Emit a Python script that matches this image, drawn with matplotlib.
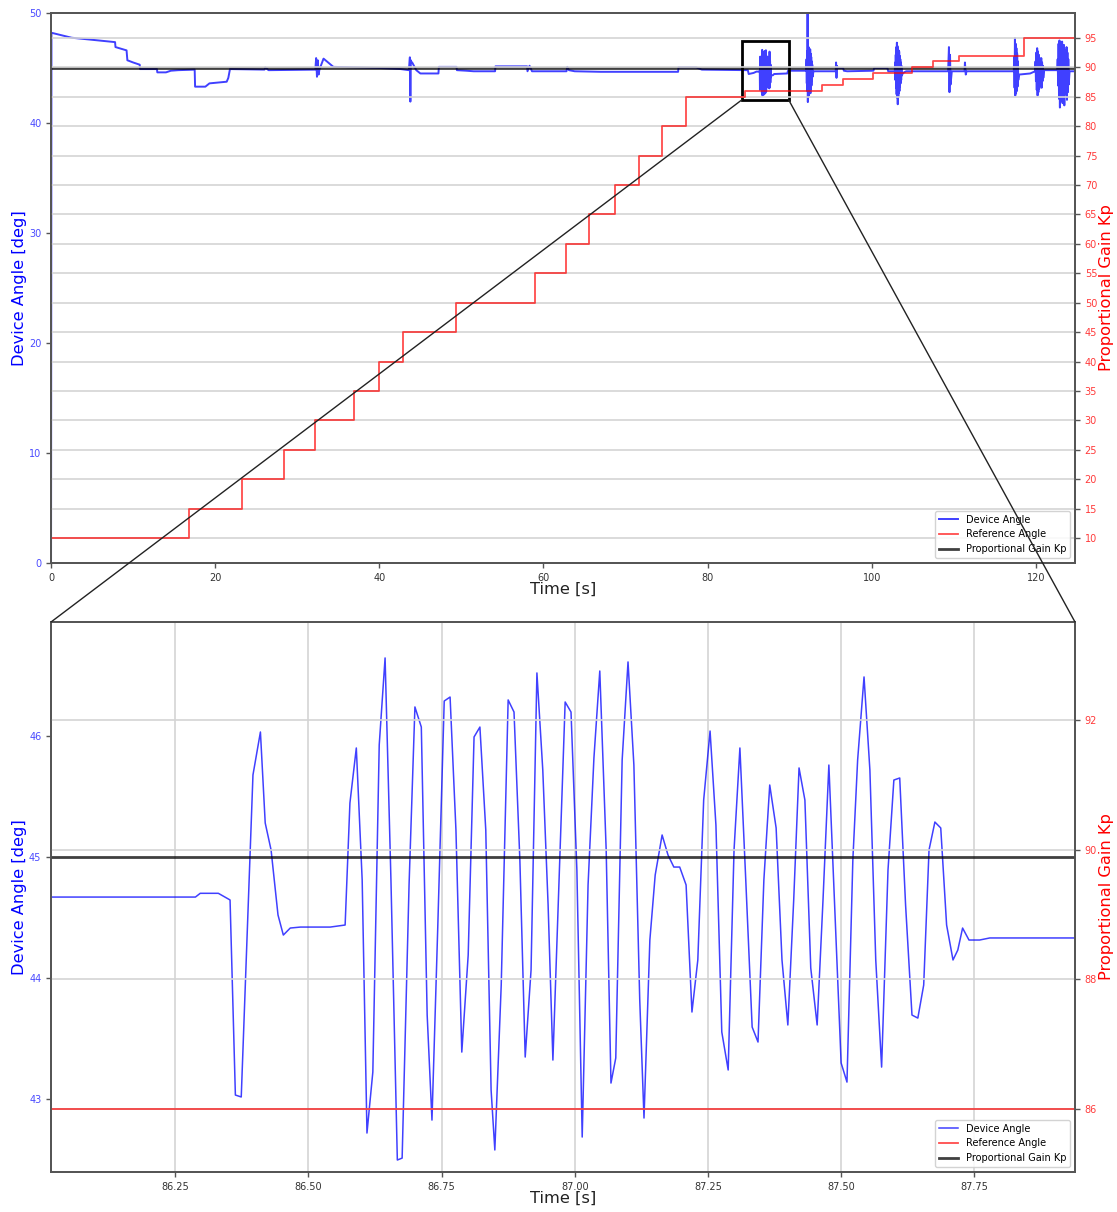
import numpy as np
import matplotlib
matplotlib.use("Agg")
import matplotlib.pyplot as plt
from matplotlib.patches import Rectangle, ConnectionPatch
from matplotlib.ticker import MultipleLocator, FormatStrFormatter

# ---------------- proportional gain schedule (step changes) ----------------
kp_times = [0.0, 16.8, 23.3, 28.35, 32.2, 36.95, 40.0, 42.9, 49.4, 59.0,
            62.7, 65.5, 68.7, 71.6, 74.4, 77.4, 84.5, 93.9, 96.5, 100.2,
            104.9, 107.4, 110.6, 118.5]
kp_values = [10, 15, 20, 25, 30, 35, 40, 45, 50, 55,
             60, 65, 70, 75, 80, 85, 86, 87, 88, 89,
             90, 91, 92, 95]
run_end = 124.76
reference_angle = 45.0

# ---------------- device angle: slow baseline (time [s], angle [deg]) ----------------
base_t = [0.0, 0.05, 2.5, 7.8, 7.85, 9.2, 9.3, 10.0, 10.8, 10.85,
          12.9, 12.95, 14.0, 14.6, 15.5, 17.5, 17.55, 18.8, 19.3, 21.4,
          21.6, 21.8, 26.0, 26.1, 26.5, 32.2, 32.7, 33.2, 34.4, 40.0,
          42.6, 43.6, 44.0, 44.5, 45.0, 47.2, 47.25, 49.4, 49.45, 50.6,
          51.5, 54.1, 54.15, 58.0, 58.05, 58.3, 58.6, 62.8, 62.9, 63.1,
          63.8, 67.0, 76.4, 76.45, 78.6, 79.3, 84.9, 85.0, 85.6, 85.95,
          88.1, 89.7, 89.8, 92.0, 92.9, 95.6, 95.85, 96.5, 96.6, 97.0,
          100.2, 100.3, 101.9, 102.0, 102.8, 103.8, 104.2, 109.3, 109.75, 111.3,
          111.55, 117.3, 117.95, 119.3, 119.9, 121.0, 122.6, 124.1, 124.76]
base_v = [0.0, 48.2, 47.75, 47.35, 46.9, 46.6, 45.7, 45.5, 45.3, 44.9,
          44.9, 44.6, 44.6, 44.75, 44.8, 44.85, 43.3, 43.3, 43.6, 43.75,
          44.1, 44.9, 44.85, 45.05, 44.8, 44.85, 44.85, 45.85, 45.1, 45.0,
          44.9, 44.8, 45.5, 44.8, 44.5, 44.5, 45.1, 45.1, 44.8, 44.75,
          44.7, 44.7, 45.15, 45.15, 44.7, 45.2, 44.7, 44.7, 45.1, 44.8,
          44.7, 44.65, 44.65, 45.05, 45.05, 44.85, 44.8, 44.45, 44.55, 44.67,
          44.45, 44.5, 44.75, 44.75, 44.7, 44.7, 45.0, 45.0, 44.75, 44.7,
          44.75, 45.0, 45.0, 44.7, 44.7, 44.55, 44.7, 44.7, 44.7, 44.7,
          44.7, 44.7, 44.4, 44.5, 44.7, 44.8, 44.8, 44.7, 44.7]

# ---------------- oscillation bursts: time window and sampled angles ----------------
burst_windows = [(32.3, 32.6), (43.72, 43.9), (92.05, 92.78), (95.65, 95.75),
                 (102.85, 103.65), (109.4, 109.6), (111.35, 111.45),
                 (117.35, 117.85), (119.95, 120.9), (122.65, 124.0)]
burst_a = [45.9, 44.2, 45.7, 44.4]
burst_b = [45.97, 41.94, 45.7, 45.5]
burst_c = [45.8, 43.6, 46.5, 42.9, 50.6, 41.9, 46.8, 42.6, 46.9, 42.5, 46.6, 42.8,
           46.4, 43.0, 46.7, 42.7, 46.3, 43.1, 46.0, 43.4, 45.6, 43.8, 45.3, 44.2]
burst_d = [45.5, 44.1, 45.2]
burst_e = [45.5, 43.9, 46.2, 43.2, 46.9, 42.6, 47.3, 42.3, 47.0, 41.7, 46.8, 42.4,
           46.6, 42.7, 46.5, 42.9, 46.1, 43.3, 45.8, 43.6, 45.5, 43.9, 45.2, 44.3]
burst_f = [46.9, 42.8, 46.2, 43.5]
burst_g = [45.5, 44.4]
burst_h = [46.0, 43.2, 47.7, 42.5, 47.2, 42.7, 46.8, 42.9, 46.3, 43.3, 45.6, 43.9]
burst_i = [45.6, 43.8, 46.4, 43.0, 46.8, 42.5, 46.5, 42.8, 46.2, 43.1, 45.9, 43.4,
           45.6, 43.6, 45.9, 43.2, 45.5, 43.8, 45.2, 44.1]
burst_j = [45.8, 43.4, 47.2, 42.2, 47.5, 41.4, 47.3, 42.0, 46.8, 42.5, 47.4, 41.8,
           46.9, 42.3, 47.1, 41.6, 46.6, 42.6, 46.2, 43.0, 46.9, 42.1, 46.4, 42.8,
           45.8, 43.5]

# ---------------- full-rate samples around the Kp = 86 oscillation ----------------
detail_t = [86.017, 86.288, 86.297, 86.331, 86.353, 86.363, 86.374, 86.396, 86.410, 86.419,
            86.430, 86.443, 86.453, 86.466, 86.485, 86.541, 86.569, 86.578, 86.590, 86.601,
            86.610, 86.621, 86.633, 86.644, 86.655, 86.667, 86.676, 86.689, 86.700, 86.712,
            86.723, 86.732, 86.743, 86.755, 86.766, 86.777, 86.788, 86.800, 86.811, 86.822,
            86.833, 86.843, 86.850, 86.862, 86.875, 86.886, 86.897, 86.907, 86.918, 86.929,
            86.940, 86.950, 86.959, 86.970, 86.982, 86.993, 87.004, 87.014, 87.025, 87.036,
            87.047, 87.059, 87.068, 87.077, 87.089, 87.100, 87.111, 87.122, 87.130, 87.141,
            87.151, 87.164, 87.175, 87.186, 87.197, 87.209, 87.220, 87.231, 87.242, 87.254,
            87.265, 87.276, 87.288, 87.299, 87.310, 87.321, 87.333, 87.344, 87.355, 87.366,
            87.378, 87.389, 87.400, 87.411, 87.421, 87.432, 87.443, 87.455, 87.466, 87.477,
            87.488, 87.500, 87.511, 87.522, 87.531, 87.543, 87.554, 87.565, 87.576, 87.588,
            87.599, 87.610, 87.621, 87.633, 87.644, 87.655, 87.665, 87.676, 87.687, 87.698,
            87.710, 87.719, 87.728, 87.740, 87.760, 87.779, 87.939]
detail_v = [44.669, 44.669, 44.70, 44.70, 44.645, 43.033, 43.017, 45.678, 46.033, 45.281,
            45.058, 44.521, 44.355, 44.413, 44.421, 44.421, 44.438, 45.446, 45.901, 44.81,
            42.719, 43.223, 45.926, 46.645, 44.81, 42.496, 42.512, 44.769, 46.240, 46.074,
            43.694, 42.826, 44.438, 46.289, 46.322, 45.223, 43.388, 44.19, 45.992, 46.074,
            45.223, 43.074, 42.579, 43.942, 46.298, 46.198, 44.975, 43.347, 44.066, 46.521,
            45.719, 44.603, 43.322, 44.727, 46.281, 46.198, 44.893, 42.686, 44.769, 45.818,
            46.537, 45.058, 43.132, 43.339, 45.802, 46.612, 45.760, 43.818, 42.843, 44.314,
            44.851, 45.182, 45.017, 44.917, 44.917, 44.769, 43.719, 44.149, 45.471, 46.041,
            45.264, 43.554, 43.240, 45.058, 45.901, 44.81, 43.595, 43.471, 44.81, 45.595,
            45.240, 44.149, 43.612, 44.645, 45.736, 45.471, 44.083, 43.612, 44.645, 45.760,
            44.579, 43.298, 43.140, 44.975, 45.802, 46.488, 45.719, 44.149, 43.264, 44.893,
            45.636, 45.653, 44.603, 43.694, 43.669, 43.942, 45.058, 45.289, 45.240, 44.438,
            44.149, 44.231, 44.413, 44.314, 44.314, 44.331, 44.331]

# zoom window outlined on the overview panel
zoom_box_t = (84.15, 89.88)
zoom_box_angle = (42.09, 47.45)
zoom_xlim = (86.017, 87.939)
zoom_ylim_angle = (42.397, 46.942)
zoom_ylim_kp = (85.03, 93.51)

# ---------------- assemble the device angle series ----------------
bursts = [burst_a, burst_b, burst_c, burst_d, burst_e, burst_f, burst_g,
          burst_h, burst_i, burst_j]
seg_t = [np.asarray(base_t), np.asarray(detail_t)]
seg_v = [np.asarray(base_v), np.asarray(detail_v)]
for (t0, t1), vals in zip(burst_windows, bursts):
    seg_t.append(np.linspace(t0, t1, len(vals)))
    seg_v.append(np.asarray(vals, dtype=float))
t_all = np.concatenate(seg_t)
v_all = np.concatenate(seg_v)
order = np.argsort(t_all, kind="stable")
time = t_all[order]
angle = v_all[order]

kp_t = kp_times + [run_end]
kp_v = kp_values + [kp_values[-1]]

# ---------------- styling ----------------
BLUE = "blue"
RED = "red"
SPINE = "#555555"
GRID = "#d4d4d4"
TICK_FS = 7
LABEL_FS = 11.7

fig = plt.figure(figsize=(11.17, 12.12), dpi=100)
ax_top = fig.add_axes([0.0457, 0.5355, 0.9167, 0.4538])
ax_bot = fig.add_axes([0.0457, 0.0330, 0.9167, 0.4538])


def draw_panel(ax, lw_blue):
    ax2 = ax.twinx()
    l_dev, = ax.plot(time, angle, color=BLUE, lw=lw_blue, alpha=0.75,
                     label="Device Angle", zorder=2)
    l_ref = ax.axhline(reference_angle, color="black", lw=2.0, alpha=0.75,
                       label="Proportional Gain Kp", zorder=3)
    l_kp, = ax2.plot(kp_t, kp_v, drawstyle="steps-post", color=RED, lw=1.3,
                     alpha=0.7, label="Reference Angle", zorder=2)
    for a in (ax, ax2):
        for s in a.spines.values():
            s.set_color(SPINE)
            s.set_linewidth(1.3)
    ax.tick_params(axis="y", labelcolor="#4a4aff", labelsize=TICK_FS,
                   color=SPINE, length=3.5, width=1.0)
    ax.tick_params(axis="x", labelcolor="#333333", labelsize=TICK_FS,
                   color=SPINE, length=3.5, width=1.0)
    ax2.tick_params(axis="y", labelcolor="#ff3a3a", labelsize=TICK_FS,
                    color=SPINE, length=3.5, width=1.0)
    ax.set_xlabel("Time [s]", fontsize=LABEL_FS, color="#222222", labelpad=-0.5)
    ax.set_ylabel("Device Angle [deg]", fontsize=LABEL_FS, color=BLUE, labelpad=1.5)
    ax2.set_ylabel("Proportional Gain Kp", fontsize=LABEL_FS, color=RED, labelpad=1.5)
    ax2.grid(True, axis="y", color=GRID, lw=1.2, zorder=0)
    ax2.legend([l_dev, l_kp, l_ref],
               ["Device Angle", "Reference Angle", "Proportional Gain Kp"],
               loc="lower right", fontsize=TICK_FS, framealpha=0.85)
    return ax2


# overview of the whole run
ax2_top = draw_panel(ax_top, 1.4)
ax_top.set_xlim(0, run_end)
ax_top.set_ylim(0, 50)
ax_top.xaxis.set_major_locator(MultipleLocator(20))
ax_top.yaxis.set_major_locator(MultipleLocator(10))
ax2_top.set_ylim(5.75, 99.25)
ax2_top.yaxis.set_major_locator(MultipleLocator(5))

# close-up of the oscillation after Kp was raised to 86
ax2_bot = draw_panel(ax_bot, 1.1)
ax_bot.grid(True, axis="x", color=GRID, lw=1.2)
ax_bot.set_axisbelow(True)
ax_bot.set_xlim(*zoom_xlim)
ax_bot.set_ylim(*zoom_ylim_angle)
ax_bot.xaxis.set_major_locator(MultipleLocator(0.25))
ax_bot.xaxis.set_major_formatter(FormatStrFormatter("%.2f"))
ax_bot.yaxis.set_major_locator(MultipleLocator(1))
ax2_bot.set_ylim(*zoom_ylim_kp)
ax2_bot.yaxis.set_major_locator(MultipleLocator(2))

# outline of the zoomed window and connectors to the close-up panel
ax_top.add_patch(Rectangle((zoom_box_t[0], zoom_box_angle[0]),
                           zoom_box_t[1] - zoom_box_t[0],
                           zoom_box_angle[1] - zoom_box_angle[0],
                           fill=False, ec="black", lw=2.0, zorder=6))
for xa, xb in ((zoom_box_t[0], 0.0), (zoom_box_t[1], 1.0)):
    con = ConnectionPatch(xyA=(xa, zoom_box_angle[0]), coordsA=ax_top.transData,
                          xyB=(xb, 1.0), coordsB=ax_bot.transAxes,
                          color="#222222", lw=1.0, zorder=10)
    fig.add_artist(con)

fig.savefig("out.png", dpi=100)
